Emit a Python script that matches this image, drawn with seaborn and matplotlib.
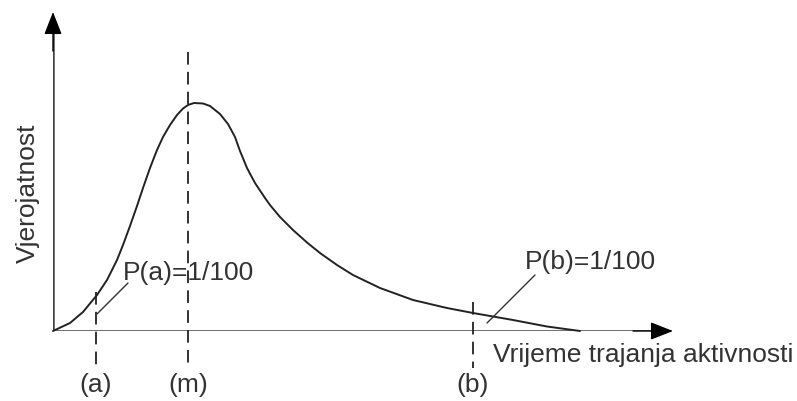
import numpy as np
import matplotlib
matplotlib.use("Agg")
import matplotlib.pyplot as plt
import pandas as pd
import seaborn as sns

# activity duration (arbitrary time units) vs probability density
curve_t = [0.0, 1.7, 3.0, 4.4, 5.4, 6.4, 7.0, 7.7, 8.4, 9.0, 9.7, 10.4, 11.0, 11.7,
           12.4, 13.0, 13.5, 14.1, 15.0, 15.7, 16.7, 17.5, 18.2, 18.7, 19.4, 20.2,
           21.2, 21.7, 22.7, 24.0, 25.4, 26.7, 28.4, 30.0, 32.7, 36.0, 39.4, 42.0,
           46.0, 49.4, 52.7]
curve_p = [0.0, 0.8, 1.9, 3.6, 5.1, 7.1, 8.6, 10.5, 12.5, 14.3, 16.3, 18.1, 19.4, 20.6,
           21.6, 22.25, 22.6, 22.8, 22.75, 22.5, 21.7, 20.7, 19.4, 18.0, 16.3, 14.8,
           13.3, 12.6, 11.4, 10.1, 8.85, 7.8, 6.6, 5.6, 4.3, 3.1, 2.3, 1.8,
           1.1, 0.45, 0.0]

marker_names = ["(a)", "(m)", "(b)"]
marker_t = [4.3, 13.5, 42.0]
marker_top = [3.9, 27.9, 2.9]

x_label = "Vrijeme trajanja aktivnosti"
y_label = "Vjerojatnost"
pa_label = "P(a)=1/100"
pb_label = "P(b)=1/100"

df = pd.DataFrame({"t": curve_t, "p": curve_p})

sns.set_style("white")
plt.rcParams['font.family'] = ['Liberation Sans', 'DejaVu Sans']
fs = 19
txt = '#333333'
axis_c = '#444444'

fig = plt.figure(figsize=(7.97, 4.01), dpi=100)
ax = fig.add_axes([53 / 797, 70 / 401, 620 / 797, 319 / 401])
ax.set_xlim(0, 62)
ax.set_ylim(0, 31.9)
ax.axis('off')

# axes lines, then solid black arrow heads
ax.plot([0, 60], [0, 0], color=axis_c, lw=1.8, solid_capstyle='butt')
ax.plot([0, 0], [0, 30], color=axis_c, lw=1.8, solid_capstyle='butt')
head = dict(arrowstyle="-|>,head_length=1.4,head_width=0.55",
            color='black', lw=1.0, shrinkA=0, shrinkB=0)
ax.annotate("", xy=(62, 0), xytext=(58, 0), arrowprops=head)
ax.annotate("", xy=(0, 31.9), xytext=(0, 28), arrowprops=head)

sns.lineplot(data=df, x="t", y="p", ax=ax, color='#222222', lw=1.4, clip_on=False)

# dashed markers a, m, b
for name, t, top in zip(marker_names, marker_t, marker_top):
    ax.plot([t, t], [top, -3.7], color='#222222', lw=1.3, ls=(0, (7, 4)),
            clip_on=False)
    ax.text(t, -5.4, name, ha='center', va='center', fontsize=fs, color=txt)

ax.text(7.0, 5.8, pa_label, ha='left', va='center', fontsize=fs, color=txt)
ax.plot([7.5, 4.4], [4.8, 1.7], color='#333333', lw=1.0)
ax.text(47.2, 6.9, pb_label, ha='left', va='center', fontsize=fs, color=txt)
ax.plot([48.2, 43.4], [5.6, 0.8], color='#333333', lw=1.0)

ax.text(44.0, -2.4, x_label, ha='left', va='center', fontsize=fs, color=txt)
ax.text(-2.5, 13.8, y_label, ha='center', va='center', rotation=90,
        fontsize=fs, color=txt)

fig.savefig("out.png", dpi=100)
